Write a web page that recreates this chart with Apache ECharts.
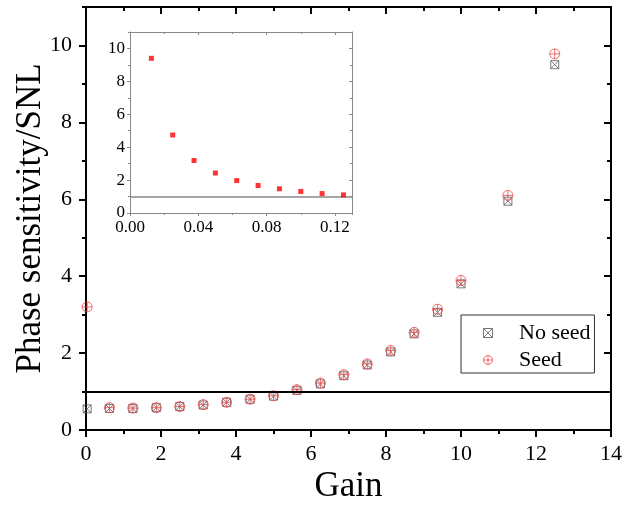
<!DOCTYPE html>
<html>
<head>
<meta charset="utf-8">
<script src="https://cdn.jsdelivr.net/npm/echarts@6/dist/echarts.min.js"></script>
<style>html,body{margin:0;padding:0;background:#fff}#c{width:641px;height:505px}</style>
</head>
<body>
<div id="c"></div>
<script>
// ---- data ----
const gainX   = [0.03, 0.625, 1.25, 1.875, 2.5, 3.125, 3.75, 4.375, 5.0, 5.625, 6.25, 6.875, 7.5, 8.125, 8.75, 9.375, 10.0, 11.25, 12.5];
const noSeedY = [0.55, 0.56, 0.56, 0.58, 0.61, 0.65, 0.72, 0.80, 0.88, 1.03, 1.20, 1.41, 1.69, 2.03, 2.50, 3.06, 3.80, 5.95, 9.50];
const seedY   = [3.20, 0.58, 0.57, 0.58, 0.61, 0.66, 0.72, 0.80, 0.89, 1.05, 1.22, 1.44, 1.72, 2.07, 2.54, 3.14, 3.89, 6.10, 9.78];
const insetX  = [0.0125, 0.025, 0.0375, 0.05, 0.0625, 0.075, 0.0875, 0.1, 0.1125, 0.125];
const insetY  = [9.40, 4.74, 3.19, 2.43, 1.97, 1.67, 1.47, 1.31, 1.18, 1.10];
const seriesNames = ['No seed', 'Seed'];
const mainXName = 'Gain';
const mainYName = 'Phase sensitivity/SNL';

const FONT = '"Liberation Serif", "Times New Roman", serif';
const SQX = 'path://M0,0L10,0L10,10L0,10ZM0,0L10,10M10,0L0,10';
const CPLUS = 'path://M0,5A5,5,0,1,1,10,5A5,5,0,1,1,0,5ZM5,0L5,10M0,5L10,5';
const NOSEED_C = '#5a5a5a';
const SEED_C = '#f04848';

function axisSet(dim, grid, min, max, major, minor, o) {
  const posA = dim === 'x' ? 'bottom' : 'left';
  const posB = dim === 'x' ? 'top' : 'right';
  const ls = {color: o.color, width: o.width};
  const base = {type: 'value', gridIndex: grid, min: min, max: max, splitLine: {show: false}, silent: true, z: o.z};
  const noLabel = {show: false};
  const main = Object.assign({}, base, {
    position: posA, interval: major,
    axisLine: {show: true, onZero: false, lineStyle: ls},
    axisTick: {show: true, inside: false, length: o.majorLen, lineStyle: ls},
    axisLabel: {show: true, color: '#000', fontFamily: FONT, fontSize: o.labelSize, margin: o.margin,
      showMaxLabel: o.showMax, formatter: o.formatter},
    name: o.name || '', nameLocation: 'middle', nameGap: o.nameGap || 0, nameMoveOverlap: false,
    nameTextStyle: {fontFamily: FONT, fontSize: o.nameSize || 12, color: '#000'}
  });
  const mainMinor = Object.assign({}, base, {
    position: posA, interval: minor,
    axisLine: {show: false, onZero: false},
    axisTick: {show: true, inside: false, length: o.minorLen, lineStyle: ls},
    axisLabel: noLabel
  });
  const opp = Object.assign({}, base, {
    position: posB, interval: major,
    axisLine: {show: true, onZero: false, lineStyle: ls},
    axisTick: {show: true, inside: true, length: o.majorLen, lineStyle: ls},
    axisLabel: noLabel
  });
  const oppMinor = Object.assign({}, base, {
    position: posB, interval: minor,
    axisLine: {show: false, onZero: false},
    axisTick: {show: true, inside: true, length: o.minorLen, lineStyle: ls},
    axisLabel: noLabel
  });
  return [main, mainMinor, opp, oppMinor];
}

const mainStyle = {color: '#000', width: 2, majorLen: 7, minorLen: 4, labelSize: 22, z: 2};
const insetStyle = {color: '#888', width: 1, majorLen: 3, minorLen: 2, labelSize: 17, z: 6};

const xAxes = [].concat(
  axisSet('x', 0, 0, 14, 2, 1, Object.assign({}, mainStyle, {margin: 13, showMax: true,
    name: mainXName, nameGap: 39, nameSize: 35})),
  axisSet('x', 1, 0, 0.13, 0.04, 0.02, Object.assign({}, insetStyle, {margin: 6, showMax: false,
    formatter: v => v.toFixed(2)}))
);
const yAxes = [].concat(
  axisSet('y', 0, 0, 11, 2, 1, Object.assign({}, mainStyle, {margin: 14, showMax: false,
    name: mainYName, nameGap: 38, nameSize: 35})),
  axisSet('y', 1, 0, 11, 2, 1, Object.assign({}, insetStyle, {margin: 5, showMax: false}))
);

const chart = echarts.init(document.getElementById('c'), null, {renderer: 'canvas'});
chart.setOption({
  animation: false,
  backgroundColor: '#fff',
  textStyle: {fontFamily: FONT},
  grid: [
    {left: 86, right: 30, top: 7, bottom: 75, containLabel: false, outerBoundsMode: 'none'},
    {left: 130, top: 32, width: 222, height: 181, show: true, backgroundColor: '#fff', borderWidth: 0, z: 4,
      containLabel: false, outerBoundsMode: 'none'}
  ],
  xAxis: xAxes,
  yAxis: yAxes,
  legend: {
    orient: 'vertical', left: 461, top: 315,
    padding: [7, 4, 2, 22], itemGap: 5, itemWidth: 52, itemHeight: 9,
    borderColor: '#333', borderWidth: 1, backgroundColor: '#fff',
    textStyle: {fontFamily: FONT, fontSize: 22, color: '#000'},
    selectedMode: false,
    data: [
      {name: seriesNames[0], icon: SQX, itemStyle: {color: 'transparent', borderColor: NOSEED_C, borderWidth: 1}},
      {name: seriesNames[1], icon: CPLUS, itemStyle: {color: 'transparent', borderColor: SEED_C, borderWidth: 1}}
    ]
  },
  series: [
    {
      type: 'scatter', name: seriesNames[0], xAxisIndex: 0, yAxisIndex: 0,
      data: gainX.map((x, i) => [x, noSeedY[i]]),
      symbol: SQX, symbolSize: 8, clip: false,
      itemStyle: {color: 'transparent', borderColor: NOSEED_C, borderWidth: 1},
      markLine: {silent: true, symbol: 'none', label: {show: false},
        lineStyle: {color: '#000', width: 2, type: 'solid'}, data: [{yAxis: 1}]}
    },
    {
      type: 'scatter', name: seriesNames[1], xAxisIndex: 0, yAxisIndex: 0,
      data: gainX.map((x, i) => [x, seedY[i]]),
      symbol: CPLUS, symbolSize: 10, clip: false,
      itemStyle: {color: 'transparent', borderColor: SEED_C, borderWidth: 1}
    },
    {
      type: 'scatter', name: 'inset', xAxisIndex: 4, yAxisIndex: 4, z: 7,
      data: insetX.map((x, i) => [x, insetY[i]]),
      symbol: 'rect', symbolSize: 5,
      itemStyle: {color: '#ff0000'},
      markLine: {silent: true, symbol: 'none', z: 6, label: {show: false},
        lineStyle: {color: '#888', width: 1.5, type: 'solid'}, data: [{yAxis: 1}]}
    }
  ]
});
</script>
</body>
</html>
